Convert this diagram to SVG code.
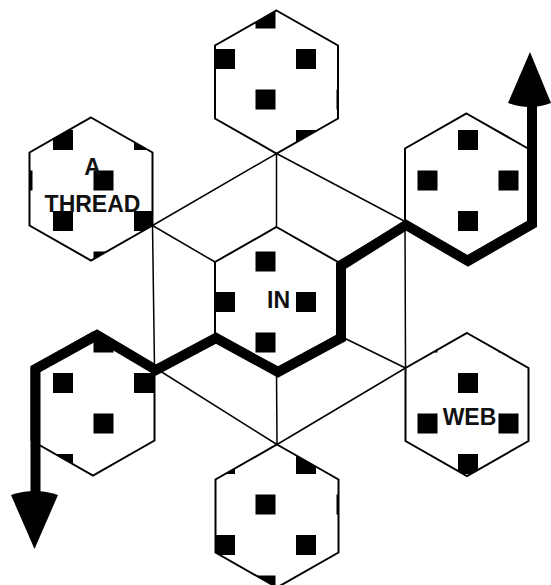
<svg xmlns="http://www.w3.org/2000/svg" width="551" height="585" viewBox="0 0 551 585">
<style>
.hex{fill:url(#sq);stroke:#000;stroke-width:2;stroke-linejoin:miter}
.web{fill:none;stroke:#000;stroke-width:1.5}
.thread{fill:none;stroke:#000;stroke-width:10;stroke-linejoin:miter;stroke-miterlimit:10}
.head{fill:#000;stroke:none}
.lbl{font-family:"Liberation Sans",Arial,sans-serif;font-weight:bold;font-size:23px;fill:#111;text-anchor:middle}
</style>
<defs>
<pattern id="sq" patternUnits="userSpaceOnUse" x="53" y="49" width="81" height="81">
<rect width="81" height="81" fill="#fff"/>
<rect width="20" height="20" fill="#000"/>
<rect x="40.5" y="40.5" width="20" height="20" fill="#000"/>
</pattern>
</defs>
<rect width="551" height="585" fill="#fff"/>
<g id="node-top"><polygon class="hex" points="276.5,10.5 338,45.5 338,118.5 276.5,153.5 215,118.5 215,45.5"/></g>
<g id="node-a-thread"><polygon class="hex" points="91,117.5 152.5,152.5 152.5,225.5 91,260.5 29.5,225.5 29.5,152.5"/><text class="lbl" x="92.5" y="175">A</text><text class="lbl" x="92.5" y="211.5">THREAD</text></g>
<g id="node-upper-right"><polygon class="hex" points="466.5,113.5 528,148.5 528,221.5 466.5,256.5 405,221.5 405,148.5"/></g>
<g id="node-in"><polygon class="hex" points="276.5,227 338,262 338,335 276.5,370 215,335 215,262"/><text class="lbl" x="278.5" y="308">IN</text></g>
<g id="node-lower-left"><polygon class="hex" points="93,332.5 154.5,367.5 154.5,440.5 93,475.5 31.5,440.5 31.5,367.5"/></g>
<g id="node-web"><polygon class="hex" points="467,333 528.5,368 528.5,441 467,476 405.5,441 405.5,368"/><text class="lbl" x="469.5" y="425">WEB</text></g>
<g id="node-bottom"><polygon class="hex" points="277,444.5 338.5,479.5 338.5,552.5 277,587.5 215.5,552.5 215.5,479.5"/></g>
<g id="connectors">
<polygon class="web" points="276.5,153.5 405,221.5 405.5,368 277,444.5 154.5,367.5 152.5,225.5"/>
<line class="web" x1="276.5" y1="153.5" x2="276.5" y2="227"/>
<line class="web" x1="405" y1="221.5" x2="338" y2="262"/>
<line class="web" x1="405.5" y1="368" x2="338" y2="335"/>
<line class="web" x1="277" y1="444.5" x2="276.5" y2="370"/>
<line class="web" x1="154.5" y1="367.5" x2="215" y2="335"/>
<line class="web" x1="152.5" y1="225.5" x2="215" y2="262"/>
<polyline class="thread" points="35.5,497 35.5,369 97,335 156,370 216,338 278,372 341,338 341,266 406,225 468,261 532,224 532,101"/>
<path class="head" d="M508,103 Q530,111 551,103 L530,52 Z"/>
<path class="head" d="M11,495 Q34.5,487 58,495 L34.5,549 Z"/>
</g>
</svg>
